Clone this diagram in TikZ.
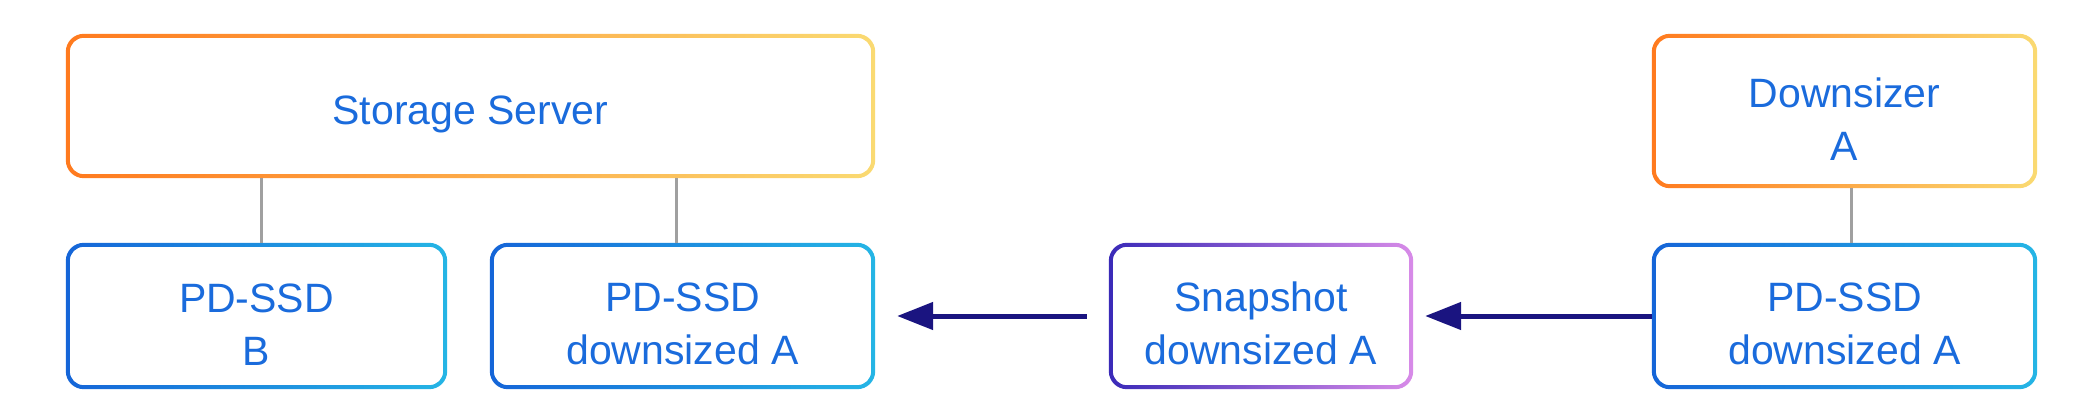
\documentclass[tikz,border=0pt]{standalone}
\usepackage{fontspec}
\setmainfont{Liberation Sans}
\usetikzlibrary{arrows.meta}
\definecolor{txt}{HTML}{1A6BDC}
\definecolor{orL}{HTML}{FF7A1E}
\definecolor{orR}{HTML}{FADA72}
\definecolor{blL}{HTML}{1565D8}
\definecolor{blR}{HTML}{25B5E5}
\definecolor{snL}{HTML}{3A2AB8}
\definecolor{snR}{HTML}{D88BE8}
\definecolor{arrc}{HTML}{1A1480}
\definecolor{conc}{HTML}{A0A0A0}
\newcommand\gradring[3]{%
  \shade[left color=#2, right color=#3, even odd rule, rounded corners=18pt]
    (#1.south west) rectangle (#1.north east)
    [rounded corners=14pt] ([shift={(4pt,4pt)}]#1.south west) rectangle ([shift={(-4pt,-4pt)}]#1.north east);
}
\newcommand\tup{\rule{0pt}{45pt}}
\tikzset{
  boxnode/.style={minimum height=146pt, inner sep=0pt, align=center,
    font=\fontsize{41}{53}\selectfont, text=txt},
  conn/.style={draw=conc, line width=3.5pt},
  arr/.style={draw=arrc, line width=5pt, -{Triangle[length=36pt,width=27pt]}, arrc}
}
\begin{document}
\begin{tikzpicture}[x=1pt,y=1pt]
\useasboundingbox (0,0) rectangle (2100,-420);
\node[boxnode, minimum width=809pt, minimum height=144pt] (storage) at (470.5,-106) {\tup Storage Server};
\node[boxnode, minimum width=381pt] (ssdb) at (256.5,-316) {\tup PD-SSD\\B};
\node[boxnode, minimum width=385pt] (ssda) at (682.5,-316) {\tup PD-SSD\\downsized A};
\node[boxnode, minimum width=304pt] (snap) at (1261,-316) {\tup Snapshot\\downsized A};
\node[boxnode, minimum width=385pt, minimum height=154pt] (down) at (1844.5,-111) {\tup Downsizer\\A};
\node[boxnode, minimum width=385pt] (ssdr) at (1844.5,-316) {\tup PD-SSD\\downsized A};
\gradring{storage}{orL}{orR}
\gradring{down}{orL}{orR}
\gradring{ssdb}{blL}{blR}
\gradring{ssda}{blL}{blR}
\gradring{ssdr}{blL}{blR}
\gradring{snap}{snL}{snR}
\draw[conn] ([xshift=5pt]ssdb.north) -- ([xshift=5pt]ssdb.north |- storage.south);
\draw[conn] ([xshift=-6pt]ssda.north) -- ([xshift=-6pt]ssda.north |- storage.south);
\draw[conn] ([xshift=7pt]ssdr.north) -- ([xshift=7pt]ssdr.north |- down.south);
\draw[arr] ([xshift=-22pt]snap.west) -- ([xshift=22pt]ssda.east);
\draw[arr] (ssdr.west) -- ([xshift=12pt]snap.east);
\end{tikzpicture}
\end{document}
